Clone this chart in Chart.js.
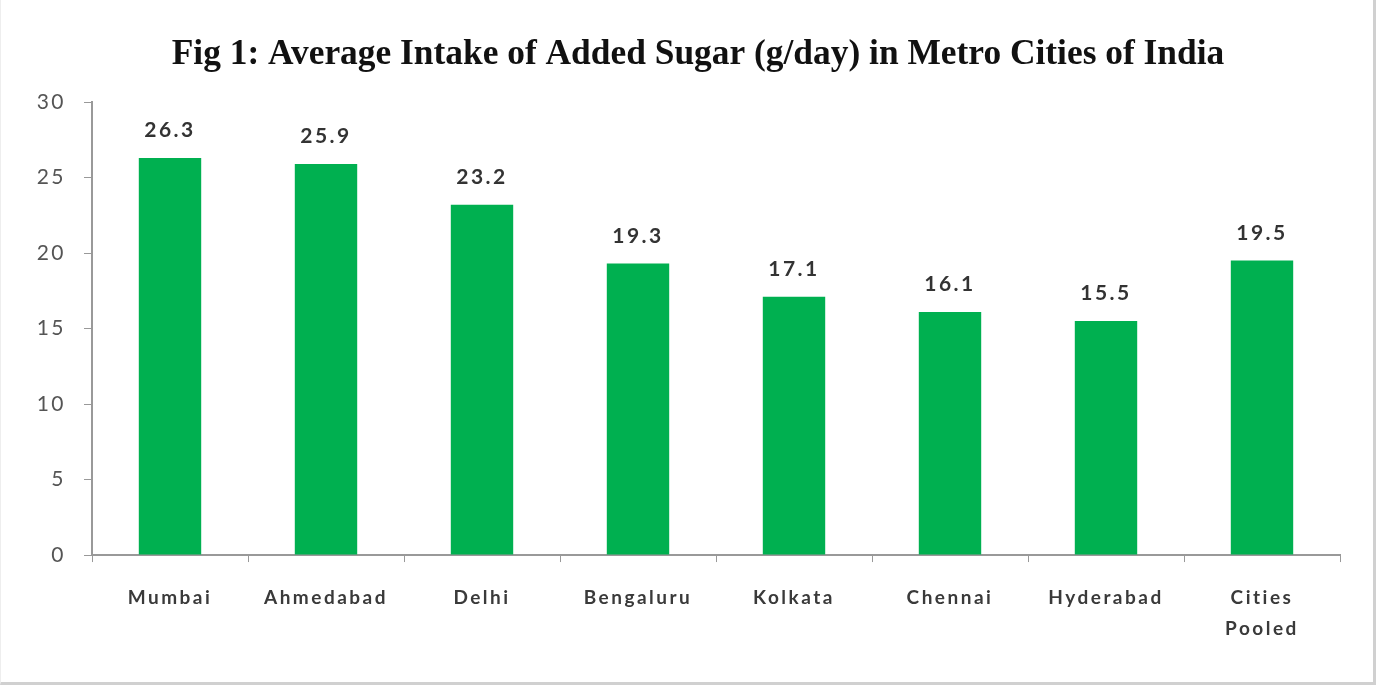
<!DOCTYPE html>
<html>
<head>
<meta charset="utf-8">
<script src="https://cdn.jsdelivr.net/npm/chart.js@4"></script>
<style>
  html, body { margin: 0; padding: 0; background: #fff; }
  #wrap { position: relative; width: 1376px; height: 685px; }
  #wrap::after { content: ''; position: absolute; left: 0; top: 0; right: 0; bottom: 0; pointer-events: none;
                 border-right: 3px solid #d0d0d0; border-bottom: 3px solid #d0d0d0; border-left: 1px solid #eee; }
</style>
</head>
<body>
<div id="wrap"><canvas id="sugar-chart"></canvas></div>
<script>
// --- datos ---
const cities = ['Mumbai', 'Ahmedabad', 'Delhi', 'Bengaluru', 'Kolkata', 'Chennai', 'Hyderabad', ['Cities', 'Pooled']];
const sugarIntake = [26.3, 25.9, 23.2, 19.3, 17.1, 16.1, 15.5, 19.5];
const yTicks = [0, 5, 10, 15, 20, 25, 30];
const chartTitle = 'Fig 1: Average Intake of Added Sugar (g/day) in Metro Cities of India';

// texto algo espaciado como en el original
const spacedText = {
  id: 'spacedText',
  beforeDraw(chart) { chart.ctx.letterSpacing = '2.5px'; },
  afterDraw(chart) { chart.ctx.letterSpacing = '0px'; }
};

// título centrado sobre toda la imagen
const figTitle = {
  id: 'figTitle',
  afterDraw(chart) {
    const ctx = chart.ctx;
    ctx.save();
    ctx.letterSpacing = '0px';
    ctx.font = 'bold 35.4px "Liberation Serif", "Times New Roman", serif';
    ctx.fillStyle = '#111';
    ctx.textAlign = 'center';
    ctx.textBaseline = 'middle';
    ctx.fillText(chartTitle, 698, 55);
    ctx.restore();
  }
};

// etiquetas encima de cada barra
const barValueLabels = {
  id: 'barValueLabels',
  afterDatasetsDraw(chart) {
    const ctx = chart.ctx;
    const meta = chart.getDatasetMeta(0);
    ctx.save();
    ctx.font = 'bold 21px Lato, "Open Sans", sans-serif';
    ctx.fillStyle = '#333';
    ctx.textAlign = 'center';
    ctx.textBaseline = 'bottom';
    meta.data.forEach((bar, i) => {
      ctx.fillText(sugarIntake[i].toFixed(1), bar.x, bar.y - 17);
    });
    ctx.restore();
  }
};

const ctx = document.getElementById('sugar-chart').getContext('2d');
new Chart(ctx, {
  type: 'bar',
  data: {
    labels: cities,
    datasets: [{
      data: sugarIntake,
      backgroundColor: '#00b050',
      barPercentage: 0.4,
      categoryPercentage: 1.0
    }]
  },
  options: {
    responsive: true,
    maintainAspectRatio: false,
    animation: false,
    layout: { padding: { left: 0, right: 36, top: 102, bottom: 21 } },
    plugins: {
      legend: { display: false },
      tooltip: { enabled: false },
      title: { display: false }
    },
    scales: {
      x: {
        grid: { drawOnChartArea: false, tickLength: 7, color: '#999' },
        border: { color: '#999', width: 2 },
        ticks: {
          color: '#3a3a3a',
          font: { family: 'Lato, "Open Sans", sans-serif', size: 19, weight: 'bold', lineHeight: 1.63 },
          padding: 20,
          maxRotation: 0
        }
      },
      y: {
        min: 0,
        max: 30,
        afterFit(scale) { scale.width = 92; },
        afterBuildTicks(scale) { scale.ticks = yTicks.map(v => ({ value: v })); },
        grid: { drawOnChartArea: false, tickLength: 8, color: '#999' },
        border: { color: '#999', width: 2 },
        ticks: {
          color: '#555',
          font: { family: 'Lato, "Open Sans", sans-serif', size: 21 },
          padding: 18
        }
      }
    }
  },
  plugins: [spacedText, barValueLabels, figTitle]
});
</script>
</body>
</html>
